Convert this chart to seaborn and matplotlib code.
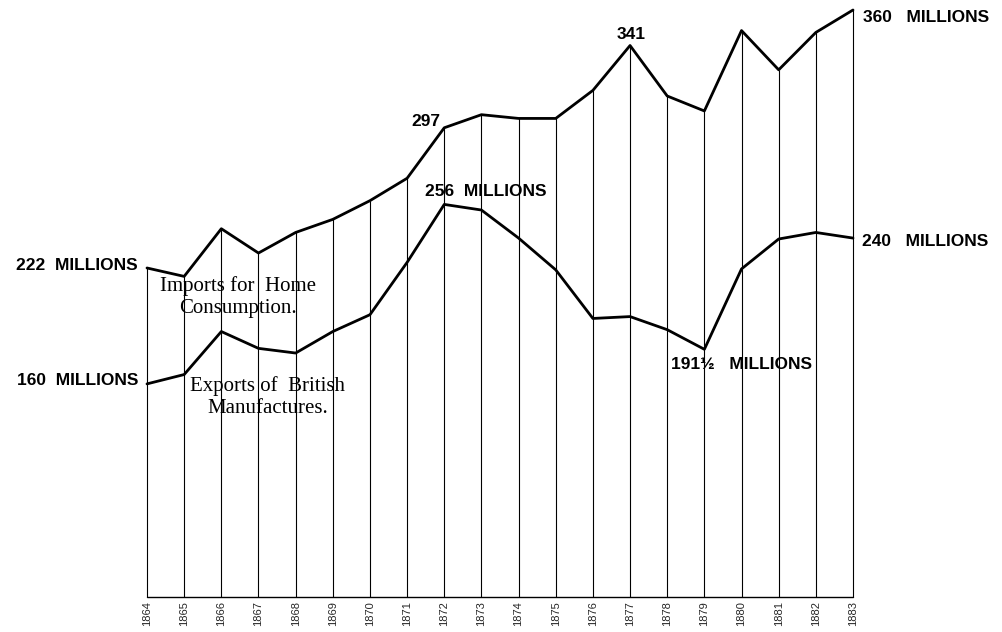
import pandas as pd
import matplotlib
matplotlib.use("Agg")
import matplotlib.pyplot as plt
import seaborn as sns

# Datos (millones de libras)
anios = list(range(1864, 1884))
importaciones = [222, 217.5, 243, 230, 241, 248, 258, 270, 297, 304,
                 302, 302, 317, 341, 314, 306, 349, 328, 348, 360]
exportaciones = [160, 165, 188, 179, 176.5, 188, 197, 225, 256, 253,
                 238, 221, 195, 196, 189, 178.5, 221.5, 237.5, 241, 238]
base = 46

sns.set_theme(style="white")
plt.rcParams['font.family'] = ['Liberation Sans', 'DejaVu Sans']

df = pd.DataFrame({'Anio': anios, 'Importaciones': importaciones,
                   'Exportaciones': exportaciones})

fig = plt.figure(figsize=(10.02, 6.32), dpi=100)
ax = fig.add_axes([147 / 1002, 35 / 632, 706 / 1002, 587 / 632])

# Líneas verticales de cada año
vl = ax.vlines(df['Anio'], base, df['Importaciones'], color='black', linewidth=0.8)
vl.set_clip_on(False)
ax.plot([anios[0], anios[-1]], [base, base], color='black', linewidth=1)

sns.lineplot(data=df, x='Anio', y='Importaciones', color='black', linewidth=2.0, ax=ax)
sns.lineplot(data=df, x='Anio', y='Exportaciones', color='black', linewidth=2.0, ax=ax)

ax.set_xlim(anios[0], anios[-1])
ax.set_ylim(base, 360)
for s in ax.spines.values():
    s.set_visible(False)
ax.set_yticks([])
ax.set_xticks(anios)
ax.set_xticklabels([str(a) for a in anios], rotation=90, fontsize=8)
ax.tick_params(axis='x', length=0, pad=3)
ax.set_xlabel('')
ax.set_ylabel('')
for l in ax.lines:
    l.set_clip_on(False)

estilo = dict(fontsize=12.5, fontweight='bold', color='black',
              textcoords='offset pixels', va='center')
ax.annotate('222  MILLIONS', xy=(1864, 222), xytext=(-9, 2), ha='right', **estilo)
ax.annotate('160  MILLIONS', xy=(1864, 160), xytext=(-9, 3), ha='right', **estilo)
ax.annotate('297', xy=(1872, 297), xytext=(-4, 6), ha='right', **estilo)
ax.annotate('256  MILLIONS', xy=(1872, 256), xytext=(-19, 13), ha='left', **estilo)
ax.annotate('341', xy=(1877, 341), xytext=(1, 11), ha='center', **estilo)
ax.annotate('360   MILLIONS', xy=(1883, 360), xytext=(10, -8), ha='left', **estilo)
ax.annotate('240   MILLIONS', xy=(1883, 238), xytext=(9, -3), ha='left', **estilo)
ax.annotate('191½   MILLIONS', xy=(1879, 178.5), xytext=(-33, -15), ha='left', **estilo)

serif = dict(family=['Liberation Serif', 'DejaVu Serif'], fontsize=15,
             ha='center', va='center', linespacing=1.2, color='black')
fig.text(238 / 1002, 1 - 297 / 632, 'Imports for  Home\nConsumption.', **serif)
fig.text(268 / 1002, 1 - 397 / 632, 'Exports of  British\nManufactures.', **serif)

fig.savefig('out.png', dpi=100, facecolor='white')
